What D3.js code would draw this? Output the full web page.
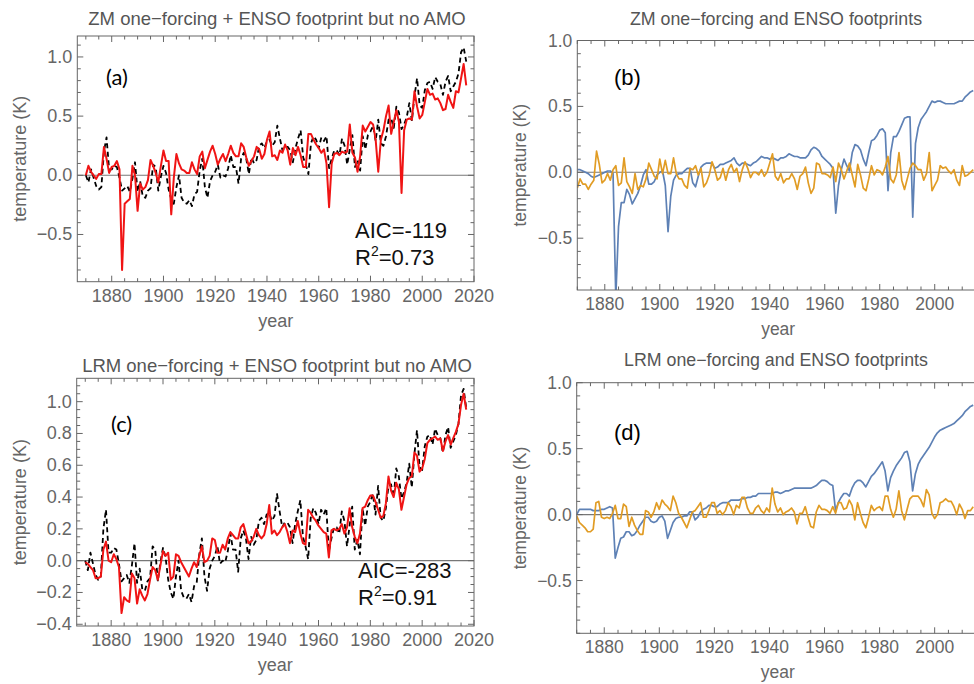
<!DOCTYPE html>
<html>
<head>
<meta charset="utf-8">
<script src="https://cdn.jsdelivr.net/npm/d3@7"></script>
<style>
  body { margin: 0; background: #fff; }
  text { font-family: "Liberation Sans", Arial, sans-serif; }
</style>
</head>
<body>
<svg id="fig" width="974" height="684"></svg>
<script>
// annual values
var yearsLong = d3.range(1870, 2018);   // panels (a), (c)
var yearsShort = d3.range(1870, 2015);  // panels (b), (d)

var observed = [
  0.00, -0.06, 0.05, -0.02, -0.09, -0.12, -0.10, 0.20, 0.32, 0.05,
  0.05, 0.08, 0.07, -0.02, -0.13, -0.11, -0.09, -0.14, -0.03, 0.11,
  -0.14, -0.05, -0.18, -0.19, -0.13, -0.11, 0.09, 0.07, -0.13, -0.01,
  0.08, 0.02, -0.12, -0.20, -0.24, -0.10, 0.00, -0.19, -0.23, -0.24,
  -0.21, -0.26, -0.16, -0.14, 0.04, 0.14, -0.10, -0.19, -0.05, 0.00,
  0.03, 0.09, -0.02, 0.00, -0.01, 0.06, 0.17, 0.07, 0.07, -0.07,
  0.14, 0.19, 0.14, 0.01, 0.15, 0.10, 0.13, 0.25, 0.27, 0.23,
  0.29, 0.30, 0.25, 0.28, 0.42, 0.31, 0.21, 0.24, 0.24, 0.21,
  0.11, 0.23, 0.31, 0.38, 0.15, 0.09, 0.01, 0.27, 0.33, 0.30,
  0.23, 0.32, 0.29, 0.33, 0.06, 0.14, 0.21, 0.21, 0.17, 0.31,
  0.25, 0.09, 0.22, 0.34, 0.07, 0.13, 0.04, 0.33, 0.22, 0.34,
  0.37, 0.42, 0.29, 0.47, 0.27, 0.25, 0.33, 0.47, 0.48, 0.40,
  0.58, 0.53, 0.39, 0.43, 0.49, 0.61, 0.46, 0.67, 0.82, 0.59,
  0.57, 0.72, 0.78, 0.79, 0.73, 0.83, 0.79, 0.77, 0.68, 0.79,
  0.84, 0.71, 0.75, 0.79, 0.86, 1.04, 1.08, 0.96
];

var zmFit = [
  0.00, 0.08, 0.03, 0.00, -0.03, 0.01, 0.01, 0.24, 0.14, 0.02,
  0.07, 0.08, 0.12, 0.05, -0.80, -0.24, -0.22, -0.20, 0.08, 0.00,
  -0.30, -0.07, -0.12, -0.10, -0.04, 0.13, 0.08, 0.02, -0.06, 0.08,
  0.21, 0.12, 0.12, -0.33, -0.02, 0.18, 0.10, 0.05, 0.04, 0.02,
  0.02, 0.11, 0.05, 0.01, 0.16, 0.20, 0.06, 0.13, 0.20, 0.25,
  0.18, 0.09, 0.14, 0.18, 0.12, 0.18, 0.25, 0.19, 0.16, 0.16,
  0.27, 0.24, 0.15, 0.08, 0.12, 0.16, 0.24, 0.22, 0.14, 0.18,
  0.30, 0.37, 0.16, 0.17, 0.13, 0.21, 0.19, 0.26, 0.21, 0.09,
  0.23, 0.17, 0.24, 0.17, 0.07, 0.07, 0.35, 0.35, 0.30, 0.26,
  0.23, 0.19, 0.22, 0.10, -0.27, 0.10, 0.18, 0.19, 0.17, 0.20,
  0.19, 0.20, 0.43, 0.19, 0.15, 0.03, 0.16, 0.42, 0.37, 0.41,
  0.45, 0.43, 0.30, 0.03, 0.30, 0.38, 0.50, 0.59, 0.35, 0.45,
  0.55, 0.45, -0.15, 0.38, 0.47, 0.48, 0.47, 0.71, 0.58, 0.48,
  0.51, 0.62, 0.73, 0.68, 0.69, 0.64, 0.65, 0.61, 0.55, 0.56,
  0.68, 0.62, 0.57, 0.71, 0.70, 0.82, 0.94, 0.76
];

var lrmFit = [
  -0.01, -0.02, -0.04, -0.06, -0.11, -0.11, -0.10, 0.07, 0.12, 0.00,
  -0.01, 0.04, 0.01, -0.04, -0.33, -0.23, -0.25, -0.26, -0.08, -0.11,
  -0.27, -0.18, -0.22, -0.25, -0.21, -0.12, -0.04, -0.06, -0.12, -0.03,
  0.06, 0.03, 0.05, -0.12, -0.10, 0.04, 0.03, -0.01, -0.04, -0.07,
  -0.10, -0.05, -0.01, -0.04, 0.03, 0.09, -0.01, 0.00, 0.03, 0.14,
  0.13, 0.05, 0.05, 0.10, 0.07, 0.14, 0.18, 0.16, 0.14, 0.14,
  0.21, 0.23, 0.17, 0.11, 0.12, 0.15, 0.20, 0.16, 0.14, 0.16,
  0.23, 0.35, 0.17, 0.19, 0.16, 0.18, 0.21, 0.23, 0.18, 0.11,
  0.19, 0.18, 0.25, 0.17, 0.11, 0.10, 0.32, 0.30, 0.27, 0.25,
  0.22, 0.20, 0.18, 0.17, 0.02, 0.19, 0.20, 0.19, 0.20, 0.23,
  0.17, 0.21, 0.33, 0.21, 0.15, 0.11, 0.17, 0.33, 0.34, 0.38,
  0.41, 0.41, 0.37, 0.32, 0.27, 0.28, 0.36, 0.53, 0.44, 0.40,
  0.49, 0.45, 0.32, 0.40, 0.48, 0.52, 0.53, 0.68, 0.66, 0.56,
  0.58, 0.64, 0.74, 0.76, 0.77, 0.78, 0.76, 0.77, 0.69, 0.75,
  0.79, 0.73, 0.77, 0.81, 0.86, 0.98, 1.05, 0.95
];

var zmForcing = [
  0.02, 0.02, 0.01, 0.00, -0.01, -0.03, -0.04, -0.03, -0.02, -0.01,
  0.00, 0.01, 0.01, -0.01, -0.95, -0.41, -0.23, -0.23, -0.13, -0.17,
  -0.24, -0.20, -0.16, -0.10, -0.02, 0.02, -0.09, -0.09, -0.07, -0.02,
  0.00, 0.01, -0.10, -0.45, -0.18, -0.06, -0.02, -0.01, -0.01, 0.01,
  0.03, 0.03, -0.08, -0.11, -0.03, 0.04, 0.06, 0.07, 0.07, 0.07,
  0.03, 0.04, 0.06, 0.06, 0.07, 0.08, 0.09, 0.11, 0.07, 0.05,
  0.07, 0.07, 0.06, 0.05, 0.07, 0.08, 0.10, 0.12, 0.11, 0.11,
  0.10, 0.11, 0.10, 0.09, 0.11, 0.11, 0.12, 0.14, 0.13, 0.12,
  0.12, 0.11, 0.11, 0.11, 0.13, 0.17, 0.19, 0.18, 0.16, 0.12,
  0.10, 0.08, 0.06, 0.03, -0.31, -0.10, 0.02, 0.10, 0.05, 0.01,
  0.15, 0.21, 0.20, 0.17, 0.10, 0.05, 0.15, 0.24, 0.25, 0.28,
  0.32, 0.33, 0.30, -0.14, 0.15, 0.27, 0.27, 0.31, 0.36, 0.41,
  0.42, 0.42, -0.34, 0.22, 0.34, 0.40, 0.43, 0.46, 0.50, 0.54,
  0.53, 0.54, 0.54, 0.53, 0.52, 0.52, 0.52, 0.52, 0.53, 0.54,
  0.54, 0.57, 0.59, 0.61, 0.62
];

var zmEnso = [
  -0.12, -0.05, -0.09, -0.09, -0.13, -0.09, -0.06, 0.16, 0.06, -0.08,
  -0.06, -0.01, -0.06, 0.02, 0.05, -0.10, -0.08, 0.11, -0.07, -0.11,
  -0.16, -0.01, -0.13, -0.10, -0.11, -0.05, 0.07, 0.02, -0.03, -0.05,
  0.10, -0.01, 0.09, -0.01, -0.01, 0.11, -0.01, -0.05, -0.05, -0.10,
  -0.12, 0.03, 0.02, 0.05, -0.02, 0.03, -0.11, -0.08, -0.02, 0.08,
  0.02, -0.06, -0.04, 0.03, -0.06, 0.02, 0.06, 0.00, 0.03, -0.07,
  0.02, 0.08, 0.03, -0.04, 0.00, 0.00, -0.02, 0.02, -0.03, 0.00,
  0.07, 0.14, -0.03, -0.06, -0.01, -0.08, -0.05, -0.05, -0.01, -0.05,
  -0.13, -0.03, -0.01, 0.04, -0.08, -0.16, -0.12, 0.07, 0.06, -0.01,
  -0.01, -0.02, -0.04, 0.04, -0.07, 0.07, 0.02, -0.05, 0.01, 0.07,
  -0.02, -0.11, 0.06, -0.02, -0.12, -0.14, -0.05, 0.05, -0.02, 0.02,
  0.01, -0.02, 0.04, 0.12, -0.05, -0.08, -0.02, 0.15, -0.06, -0.13,
  -0.05, 0.03, 0.07, 0.05, 0.02, 0.02, -0.06, -0.01, 0.15, -0.14,
  -0.10, -0.06, 0.05, 0.03, 0.04, 0.01, -0.01, 0.02, -0.06, -0.10,
  0.05, -0.03, -0.02, 0.00, 0.02
];

var lrmForcing = [
  0.00, 0.04, 0.04, 0.04, 0.04, 0.04, 0.03, 0.03, 0.03, 0.04,
  0.04, 0.05, 0.06, 0.05, -0.33, -0.25, -0.18, -0.17, -0.13, -0.13,
  -0.16, -0.15, -0.12, -0.08, -0.05, -0.02, -0.02, -0.05, -0.06, -0.05,
  -0.02, -0.01, -0.05, -0.18, -0.12, -0.06, -0.03, -0.02, -0.02, -0.01,
  -0.01, 0.02, 0.02, -0.04, -0.02, 0.02, 0.04, 0.05, 0.07, 0.07,
  0.06, 0.06, 0.08, 0.09, 0.09, 0.09, 0.11, 0.11, 0.11, 0.11,
  0.12, 0.12, 0.13, 0.13, 0.14, 0.14, 0.16, 0.16, 0.16, 0.16,
  0.16, 0.16, 0.17, 0.17, 0.16, 0.17, 0.18, 0.18, 0.19, 0.20,
  0.20, 0.20, 0.20, 0.20, 0.20, 0.20, 0.21, 0.22, 0.24, 0.26,
  0.26, 0.25, 0.23, 0.22, 0.03, 0.09, 0.13, 0.16, 0.16, 0.14,
  0.20, 0.24, 0.26, 0.26, 0.24, 0.21, 0.25, 0.29, 0.31, 0.34,
  0.37, 0.40, 0.33, 0.18, 0.28, 0.33, 0.37, 0.40, 0.43, 0.47,
  0.48, 0.40, 0.18, 0.31, 0.38, 0.42, 0.45, 0.48, 0.51, 0.55,
  0.59, 0.62, 0.64, 0.65, 0.66, 0.67, 0.68, 0.69, 0.71, 0.73,
  0.75, 0.78, 0.80, 0.82, 0.83
];

var lrmEnso = [
  -0.01, -0.06, -0.08, -0.10, -0.13, -0.13, -0.11, 0.09, 0.10, -0.02,
  -0.03, -0.02, -0.03, 0.01, 0.07, -0.03, -0.03, 0.08, 0.06, -0.09,
  -0.02, -0.08, -0.12, -0.15, -0.15, 0.03, 0.02, -0.02, 0.02, 0.09,
  0.04, 0.11, 0.08, 0.06, 0.03, 0.14, 0.09, 0.01, -0.02, -0.06,
  -0.10, -0.04, 0.02, 0.03, 0.06, 0.09, -0.02, -0.02, 0.03, 0.09,
  0.09, 0.01, 0.03, 0.00, 0.03, 0.09, 0.06, 0.00, 0.07, 0.05,
  0.13, 0.13, 0.05, 0.01, 0.01, 0.05, 0.07, 0.03, 0.01, 0.05,
  0.02, 0.20, 0.08, 0.02, 0.05, 0.00, 0.02, 0.03, 0.05, 0.02,
  -0.07, 0.01, 0.01, 0.06, -0.02, -0.09, -0.10, 0.02, 0.07, 0.04,
  0.04, 0.03, 0.01, 0.06, 0.01, 0.09, 0.09, 0.04, 0.05, 0.11,
  0.07, -0.04, 0.09, 0.01, -0.06, -0.10, -0.02, 0.07, 0.03, 0.05,
  0.06, 0.03, 0.14, 0.14, 0.04, -0.02, 0.04, 0.18, 0.03, -0.04,
  0.04, 0.12, 0.14, 0.14, 0.14, 0.11, 0.06, 0.19, 0.15, 0.01,
  -0.03, 0.00, 0.09, 0.10, 0.12, 0.10, 0.10, 0.06, 0.00, 0.08,
  0.04, -0.03, 0.03, 0.03, 0.06
];

var xMajor = d3.range(1860, 2041, 20);
var xMinor = d3.range(1860, 2041, 5);

var RED = "#f01414", BLUE = "#5e81b5", ORANGE = "#e19c24";
var GREY = "#666";

var svg = d3.select("#fig");

function drawPanel(p) {
    var x = d3.scaleLinear().domain(p.xDomain).range([p.left, p.right]),
        y = d3.scaleLinear().domain(p.yDomain).range([p.bottom, p.top]);
    var g = svg.append("g");

    g.append("clipPath").attr("id", "clip-" + p.id)
        .append("rect")
        .attr("x", p.left).attr("y", p.top)
        .attr("width", p.right - p.left).attr("height", p.bottom - p.top);

    // zero line
    g.append("line")
        .attr("x1", p.left).attr("x2", p.right)
        .attr("y1", y(0)).attr("y2", y(0))
        .attr("stroke", "#777").attr("stroke-width", 1.1);

    var plot = g.append("g").attr("clip-path", "url(#clip-" + p.id + ")");
    p.series.forEach(function (s) {
        var line = d3.line()
            .x(function (d, i) { return x(s.years[i]); })
            .y(function (d) { return y(d); });
        plot.append("path")
            .datum(s.values)
            .attr("fill", "none")
            .attr("stroke", s.color)
            .attr("stroke-width", s.width)
            .attr("stroke-linejoin", "round")
            .attr("stroke-dasharray", s.dash || null)
            .attr("d", line);
    });

    // frame
    g.append("rect")
        .attr("x", p.left).attr("y", p.top)
        .attr("width", p.right - p.left).attr("height", p.bottom - p.top)
        .attr("fill", "none").attr("stroke", GREY).attr("stroke-width", 1);

    var inX = function (v) { return v >= p.xDomain[0] - 1e-6 && v <= p.xDomain[1] + 1e-6; },
        inY = function (v) { return v >= p.yDomain[0] - 1e-9 && v <= p.yDomain[1] + 1e-9; };

    var ticks = g.append("g").attr("stroke", GREY).attr("stroke-width", 1);
    function xTick(v, len) {
        ticks.append("line").attr("x1", x(v)).attr("x2", x(v))
            .attr("y1", p.bottom).attr("y2", p.bottom - len);
        ticks.append("line").attr("x1", x(v)).attr("x2", x(v))
            .attr("y1", p.top).attr("y2", p.top + len);
    }
    function yTick(v, len) {
        ticks.append("line").attr("x1", p.left).attr("x2", p.left + len)
            .attr("y1", y(v)).attr("y2", y(v));
        if (!p.cutRight) {
            ticks.append("line").attr("x1", p.right).attr("x2", p.right - len)
                .attr("y1", y(v)).attr("y2", y(v));
        }
    }
    xMinor.filter(inX).forEach(function (v) { xTick(v, xMajor.indexOf(v) >= 0 ? 6 : 3.5); });
    p.yMinor.filter(inY).forEach(function (v) {
        var major = p.yMajor.some(function (m) { return Math.abs(m - v) < 1e-6; });
        yTick(v, major ? 6 : 3.5);
    });

    var fmt = d3.format(".1f");
    g.selectAll(".xl").data(xMajor.filter(inX)).enter().append("text")
        .attr("x", function (d) { return x(d); })
        .attr("y", p.bottom + 20)
        .attr("text-anchor", "middle")
        .attr("font-size", p.fontSize).attr("fill", GREY)
        .text(function (d) { return d; });
    g.selectAll(".yl").data(p.yMajor).enter().append("text")
        .attr("x", p.left - 5)
        .attr("y", function (d) { return y(d) + 6; })
        .attr("text-anchor", "end")
        .attr("font-size", p.fontSize).attr("fill", GREY)
        .text(function (d) { return fmt(d); });

    g.append("text")
        .attr("x", (p.left + p.right) / 2).attr("y", p.bottom + 45)
        .attr("text-anchor", "middle").attr("font-size", p.fontSize).attr("fill", GREY)
        .text("year");
    g.append("text")
        .attr("transform", "translate(" + (p.left - 51) + "," + ((p.top + p.bottom) / 2) + ") rotate(-90)")
        .attr("text-anchor", "middle").attr("font-size", p.fontSize).attr("fill", GREY)
        .text("temperature (K)");
    g.append("text")
        .attr("x", p.titleX).attr("y", p.titleY)
        .attr("text-anchor", "middle").attr("font-size", p.titleSize).attr("fill", "#555")
        .text(p.title);

    g.append("text")
        .attr("x", p.letter.x).attr("y", p.letter.y)
        .attr("font-size", p.letter.size)
        .style("font-family", p.letter.font)
        .attr("fill", "#000")
        .text(p.letter.text);

    if (p.stats) {
        var st = g.append("g").style("font-family", "Lato, 'Open Sans', sans-serif")
            .attr("font-size", 22).attr("fill", "#111");
        st.append("text").attr("x", p.stats.x).attr("y", p.stats.y1).text(p.stats.aic);
        var r = st.append("text").attr("x", p.stats.x).attr("y", p.stats.y2);
        r.append("tspan").text("R");
        r.append("tspan").attr("font-size", 14).attr("dy", -9).text("2");
        r.append("tspan").attr("dy", 9).text("=" + p.stats.r2);
    }
}

drawPanel({
    id: "a", left: 77.3, right: 474, top: 36, bottom: 281.7,
    xDomain: [1866.7, 2020], yDomain: [-0.899, 1.177],
    yMajor: [-0.5, 0, 0.5, 1.0],
    yMinor: d3.range(-8, 12).map(function (k) { return k / 10; }),
    fontSize: 18, titleSize: 18.5,
    title: "ZM one\u2212forcing + ENSO footprint but no AMO", titleX: 277, titleY: 25,
    letter: { text: "(a)", x: 106, y: 85, size: 22, font: "Lato, sans-serif" },
    stats: { x: 355, y1: 238, y2: 265, aic: "AIC=-119", r2: "0.73" },
    series: [
        { years: yearsLong, values: observed, color: "#000", width: 1.8, dash: "5,3.5" },
        { years: yearsLong, values: zmFit, color: RED, width: 2 }
    ]
});

drawPanel({
    id: "b", left: 577.3, right: 979, top: 40.5, bottom: 290, cutRight: true,
    xDomain: [1870, 2016.1], yDomain: [-0.893, 1.0],
    yMajor: [-0.5, 0, 0.5, 1.0],
    yMinor: d3.range(-8, 11).map(function (k) { return k / 10; }),
    fontSize: 17.5, titleSize: 17.8,
    title: "ZM one\u2212forcing and ENSO footprints", titleX: 776, titleY: 25,
    letter: { text: "(b)", x: 614, y: 85, size: 22, font: "'Liberation Sans', Arial, sans-serif" },
    series: [
        { years: yearsShort, values: zmForcing, color: BLUE, width: 1.7 },
        { years: yearsShort, values: zmEnso, color: ORANGE, width: 1.7 }
    ]
});

drawPanel({
    id: "c", left: 76.7, right: 474, top: 378.3, bottom: 626,
    xDomain: [1866.7, 2020], yDomain: [-0.411, 1.147],
    yMajor: [-0.4, -0.2, 0, 0.2, 0.4, 0.6, 0.8, 1.0],
    yMinor: d3.range(-8, 23).map(function (k) { return k / 20; }),
    fontSize: 18, titleSize: 18.5,
    title: "LRM one\u2212forcing + ENSO footprint but no AMO", titleX: 277, titleY: 372,
    letter: { text: "(c)", x: 111, y: 432, size: 22, font: "Lato, sans-serif" },
    stats: { x: 358, y1: 578, y2: 605, aic: "AIC=-283", r2: "0.91" },
    series: [
        { years: yearsLong, values: observed, color: "#000", width: 1.8, dash: "5,3.5" },
        { years: yearsLong, values: lrmFit, color: RED, width: 2 }
    ]
});

drawPanel({
    id: "d", left: 576.7, right: 979, top: 382.7, bottom: 633.3, cutRight: true,
    xDomain: [1870, 2016.1], yDomain: [-0.9, 1.0],
    yMajor: [-0.5, 0, 0.5, 1.0],
    yMinor: d3.range(-9, 11).map(function (k) { return k / 10; }),
    fontSize: 17.5, titleSize: 17.8,
    title: "LRM one\u2212forcing and ENSO footprints", titleX: 776, titleY: 366,
    letter: { text: "(d)", x: 614, y: 440, size: 22, font: "'Liberation Sans', Arial, sans-serif" },
    series: [
        { years: yearsShort, values: lrmForcing, color: BLUE, width: 1.7 },
        { years: yearsShort, values: lrmEnso, color: ORANGE, width: 1.7 }
    ]
});
</script>
</body>
</html>
